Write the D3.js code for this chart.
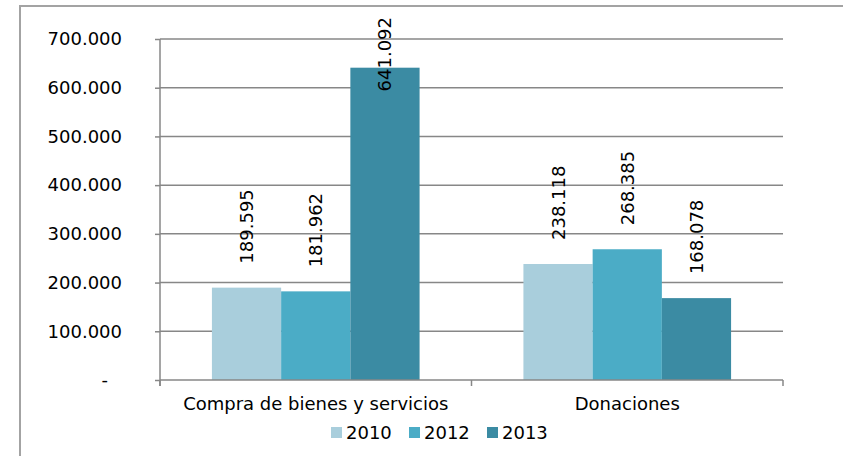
<!DOCTYPE html>
<html>
<head>
<meta charset="utf-8">
<script src="https://cdn.jsdelivr.net/npm/d3@7"></script>
<style>
  body { margin: 0; background: #fff; }
  svg { display: block; font-family: "DejaVu Sans", sans-serif; }
</style>
</head>
<body>
<svg id="chart" width="843" height="456"></svg>
<script>
// datos del gráfico
const categories = ["Compra de bienes y servicios", "Donaciones"];
const years = ["2010", "2012", "2013"];
const values2010 = [189595, 238118];
const values2012 = [181962, 268385];
const values2013 = [641092, 168078];
const yTicks = [0, 100000, 200000, 300000, 400000, 500000, 600000, 700000];
const colors = ["#a9cedc", "#4bacc6", "#3b8ba3"];

const seriesValues = [values2010, values2012, values2013];
const rows = [];
categories.forEach((c, i) => {
  years.forEach((y, j) => rows.push({ cat: c, year: y, value: seriesValues[j][i] }));
});

const svg = d3.select("#chart");
const W = 843, H = 456;
const margin = { left: 160, right: 60, top: 39, bottom: 76 };
const fontSize = 18;
const font = "DejaVu Sans";

// marco del área del gráfico (sólo se ven borde izquierdo y superior)
svg.append("rect")
  .attr("x", 20).attr("y", 6)
  .attr("width", 900).attr("height", 600)
  .attr("fill", "none")
  .attr("stroke", "#a3a3a3")
  .attr("stroke-width", 2);

const x0 = d3.scaleBand()
  .domain(categories)
  .range([margin.left, W - margin.right])
  .paddingInner(0).paddingOuter(0);

// ancho de separación 150% como en Excel
const barW = x0.bandwidth() / (years.length + 1.5);
const x1 = d3.scaleBand()
  .domain(years)
  .range([barW * 0.75, barW * 0.75 + barW * years.length]);

const y = d3.scaleLinear()
  .domain([0, 700000])
  .range([H - margin.bottom, margin.top]);

const fmt = v => v === 0 ? "-" : d3.format(",")(v).replace(/,/g, ".");

// líneas de división
svg.append("g")
  .selectAll("line")
  .data(yTicks.filter(t => t > 0))
  .join("line")
  .attr("x1", margin.left).attr("x2", W - margin.right)
  .attr("y1", d => y(d)).attr("y2", d => y(d))
  .attr("stroke", "#878787")
  .attr("stroke-width", 1.5);

// barras
svg.append("g")
  .selectAll("rect")
  .data(rows)
  .join("rect")
  .attr("x", d => x0(d.cat) + x1(d.year))
  .attr("width", x1.bandwidth())
  .attr("y", d => y(d.value))
  .attr("height", d => y(0) - y(d.value))
  .attr("fill", d => colors[years.indexOf(d.year)]);

// eje Y
const yAxis = svg.append("g")
  .attr("transform", `translate(${margin.left},0)`)
  .call(d3.axisLeft(y).tickValues(yTicks).tickSize(5).tickPadding(33).tickFormat(fmt))
  .attr("font-family", font);
yAxis.select(".domain").attr("stroke", "#878787").attr("stroke-width", 1.5)
  .attr("d", `M0,${margin.top}V${y(0) + 6}`);
yAxis.selectAll(".tick line").attr("stroke", "#878787").attr("stroke-width", 1.5);
yAxis.selectAll(".tick text")
  .attr("font-size", fontSize)
  .attr("fill", "#000")
  .attr("dx", d => d === 0 ? -14 : 0);

// eje X
const xAxis = svg.append("g")
  .attr("transform", `translate(0,${y(0)})`)
  .call(d3.axisBottom(x0).tickSize(0).tickPadding(17))
  .attr("font-family", font);
xAxis.select(".domain").attr("stroke", "#878787").attr("stroke-width", 1.5)
  .attr("d", `M${margin.left},0H${W - margin.right}`);
xAxis.selectAll(".tick text").attr("font-size", fontSize).attr("fill", "#000");
// marcas entre categorías
xAxis.append("g")
  .selectAll("line")
  .data(categories.map(c => x0(c)).concat([x0.range()[1]]))
  .join("line")
  .attr("x1", d => d).attr("x2", d => d)
  .attr("y1", 0).attr("y2", 6)
  .attr("stroke", "#878787").attr("stroke-width", 1.5);

// etiquetas de datos verticales
const topLimit = 17;
const labels = svg.append("g")
  .selectAll("text")
  .data(rows)
  .join("text")
  .attr("font-size", fontSize)
  .attr("fill", "#000")
  .attr("dy", "0.36em")
  .text(d => fmt(d.value));
labels.each(function(d) {
  const len = this.getComputedTextLength();
  const cx = x0(d.cat) + x1(d.year) + x1.bandwidth() / 2;
  const start = Math.max(y(d.value) - 24, topLimit + len);
  d3.select(this).attr("transform", `translate(${cx},${start}) rotate(-90)`);
});

// leyenda
const legendX = [331, 409, 487];
const legend = svg.append("g")
  .selectAll("g")
  .data(years)
  .join("g")
  .attr("transform", (d, i) => `translate(${legendX[i]},427)`);
legend.append("rect")
  .attr("width", 11).attr("height", 11)
  .attr("fill", (d, i) => colors[i]);
legend.append("text")
  .attr("x", 15).attr("y", 12)
  .attr("font-size", fontSize)
  .attr("fill", "#000")
  .text(d => d);
</script>
</body>
</html>
